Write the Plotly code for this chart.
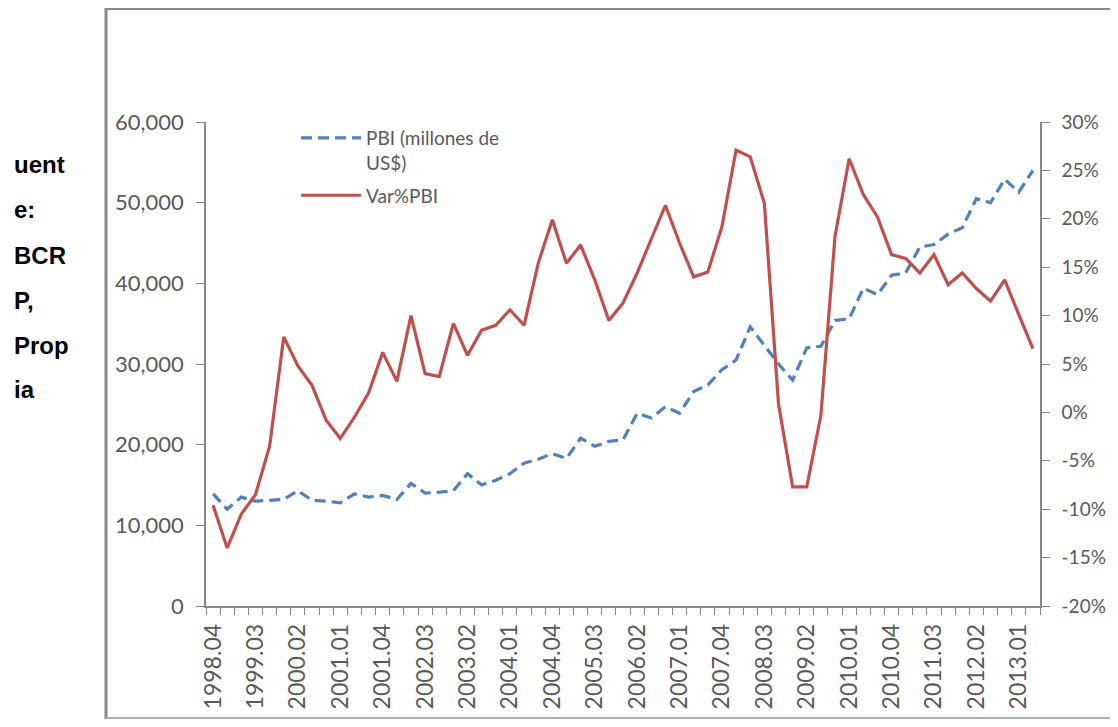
import plotly.graph_objects as go

# Quarterly periods (year.quarter)
periods = [
    "1998.04",
    "1999.01", "1999.02", "1999.03", "1999.04",
    "2000.01", "2000.02", "2000.03", "2000.04",
    "2001.01", "2001.02", "2001.03", "2001.04",
    "2002.01", "2002.02", "2002.03", "2002.04",
    "2003.01", "2003.02", "2003.03", "2003.04",
    "2004.01", "2004.02", "2004.03", "2004.04",
    "2005.01", "2005.02", "2005.03", "2005.04",
    "2006.01", "2006.02", "2006.03", "2006.04",
    "2007.01", "2007.02", "2007.03", "2007.04",
    "2008.01", "2008.02", "2008.03", "2008.04",
    "2009.01", "2009.02", "2009.03", "2009.04",
    "2010.01", "2010.02", "2010.03", "2010.04",
    "2011.01", "2011.02", "2011.03", "2011.04",
    "2012.01", "2012.02", "2012.03", "2012.04",
    "2013.01", "2013.02",
]

# PBI (millones de US$)
pbi = [
    13900,
    12000, 13500, 13000, 13100,
    13200, 14300, 13100, 13000,
    12800, 13900, 13500, 13700,
    13200, 15200, 14000, 14100,
    14300, 16400, 15000, 15600,
    16400, 17700, 18200, 18900,
    18300, 20800, 19800, 20400,
    20600, 23900, 23300, 24700,
    23900, 26600, 27400, 29300,
    30500, 34600, 32300, 30000,
    28000, 32000, 32200, 35400,
    35600, 39400, 38600, 41000,
    41300, 44500, 44800, 46100,
    46900, 50500, 50000, 52900,
    51300, 54000,
]

# Var% PBI (percent)
var_pbi = [
    -9.6,
    -14.0, -10.5, -8.5, -3.5,
    7.8, 4.8, 2.8, -0.8,
    -2.7, -0.5, 2.0, 6.2,
    3.2, 10.0, 4.0, 3.7,
    9.2, 5.9, 8.5, 9.0,
    10.6, 9.0, 15.4, 19.9,
    15.4, 17.3, 13.7, 9.5,
    11.3, 14.4, 17.8, 21.4,
    17.5, 14.0, 14.5, 19.2,
    27.1, 26.4, 21.6, 0.9,
    -7.7, -7.7, -0.3, 18.2,
    26.2, 22.5, 20.2, 16.3,
    15.9, 14.4, 16.3, 13.2,
    14.4, 12.8, 11.5, 13.7,
    10.1, 6.6,
]

tick_text = [p if i % 3 == 0 else "" for i, p in enumerate(periods)]
left_ticks = [0, 10000, 20000, 30000, 40000, 50000, 60000]
right_ticks = [-20, -15, -10, -5, 0, 5, 10, 15, 20, 25, 30]
right_tick_text = ["-20%", "-15%", "-10%", "-5%", "0%", "5%", "10%",
                   "15%", "20%", "25%", "30%"]

side_text = ["uent", "e:", "BCR", "P,", "Prop", "ia"]

AX = "#868686"
TXT = "#595959"
FONT = "Lato"

# the page body adds an 8px margin on every side, so the figure is made
# 16px smaller than the window to avoid scrollbars
OFF = 8
W, H = 1118 - 2 * OFF, 727 - 2 * OFF
L, T = 206 - OFF, 122 - OFF
pw, ph = 834, 484
R, B = W - L - pw, H - T - ph


def ref_x(x):
    """reference-image pixel x -> paper coordinate"""
    return (x - OFF - L) / pw


def ref_y(y):
    """reference-image pixel y -> paper coordinate"""
    return (T + ph - (y - OFF)) / ph


fig = go.Figure()
fig.add_trace(go.Scatter(
    x=periods, y=pbi, name="PBI (millones de<br>US$)", mode="lines",
    line=dict(color="#4F81BD", width=3.2, dash="11px,6px"),
    yaxis="y", legendgroup="a",
))
fig.add_trace(go.Scatter(
    x=periods, y=var_pbi, name="Var%PBI", mode="lines",
    line=dict(color="#C0504D", width=3.2),
    yaxis="y2", legendgroup="b",
))

fig.update_layout(
    width=W, height=H, autosize=False,
    margin=dict(l=L, r=R, t=T, b=B, pad=0, autoexpand=False),
    paper_bgcolor="white", plot_bgcolor="white",
    font=dict(family=FONT, size=22, color=TXT),
    showlegend=True,
    legend=dict(
        x=ref_x(296), y=ref_y(119), xanchor="left", yanchor="top",
        font=dict(family=FONT, size=19, color=TXT),
        bgcolor="rgba(0,0,0,0)", itemwidth=60, valign="top",
        tracegroupgap=5,
    ),
    xaxis=dict(
        type="category", range=[-0.5, len(periods) - 0.5],
        tickmode="array", tickvals=periods, ticktext=tick_text,
        tickson="boundaries", ticks="outside", ticklen=7, tickcolor=AX,
        tickangle=-90, showline=True, linecolor=AX, linewidth=1.5,
        showgrid=False, zeroline=False, ticklabelstandoff=7,
        automargin=False,
        tickfont=dict(family=FONT, size=23, color=TXT),
    ),
    yaxis=dict(
        range=[0, 60000], tickmode="array", tickvals=left_ticks,
        tickformat=",d", ticks="outside", ticklen=8, tickcolor=AX,
        showline=True, linecolor=AX, linewidth=1.5,
        showgrid=False, zeroline=False, ticklabelstandoff=8,
        automargin=False,
        tickfont=dict(family=FONT, size=22, color=TXT),
    ),
    yaxis2=dict(
        range=[-20, 30], tickmode="array", tickvals=right_ticks,
        ticktext=right_tick_text, overlaying="y", side="right",
        ticks="outside", ticklen=8, tickcolor=AX,
        showline=True, linecolor=AX, linewidth=1.5,
        showgrid=False, zeroline=False, ticklabelstandoff=8,
        automargin=False,
        tickfont=dict(family=FONT, size=19, color=TXT),
    ),
)

# Outer frame of the embedded chart
fig.add_shape(type="line", xref="paper", yref="paper",
              x0=ref_x(106), x1=ref_x(106), y0=ref_y(720), y1=ref_y(7),
              line=dict(color="#8a8a8a", width=3))
fig.add_shape(type="line", xref="paper", yref="paper",
              x0=ref_x(106), x1=ref_x(1112), y0=ref_y(9), y1=ref_y(9),
              line=dict(color="#8a8a8a", width=2))
fig.add_shape(type="line", xref="paper", yref="paper",
              x0=ref_x(106), x1=ref_x(1112), y0=ref_y(718), y1=ref_y(718),
              line=dict(color="#b0b0b0", width=2))

# Side text (cut-off source note)
centers = [164, 209, 255, 300, 345, 390]
for txt, cy in zip(side_text, centers):
    fig.add_annotation(
        text=txt, xref="paper", yref="paper",
        x=ref_x(12), y=ref_y(cy), xanchor="left", yanchor="middle",
        showarrow=False,
        font=dict(family="Liberation Sans", size=24, color="black", weight="bold"),
    )

fig.write_html("out.html")
